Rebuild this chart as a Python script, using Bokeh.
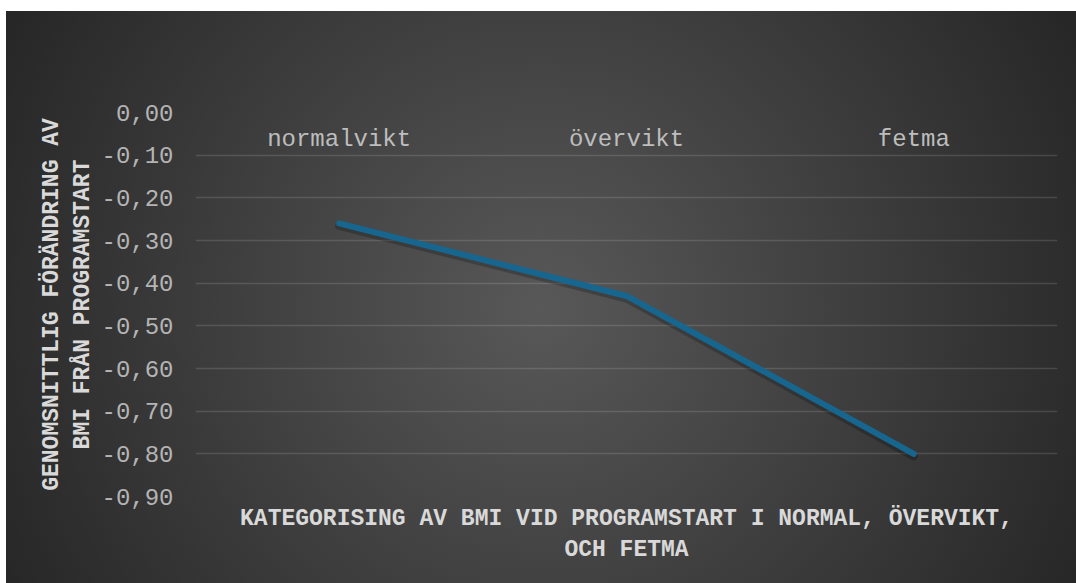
from bokeh.plotting import figure
from bokeh.models import FixedTicker, Range1d, CustomJSTickFormatter, ColumnDataSource
from bokeh.transform import dodge
from bokeh.core.properties import value
from bokeh.embed import file_html
from bokeh.resources import INLINE

# ---- data ----
categories = ["normalvikt", "övervikt", "fetma"]
bmi_change = [-0.26, -0.43, -0.80]
y_ticks = [0.0, -0.1, -0.2, -0.3, -0.4, -0.5, -0.6, -0.7, -0.8, -0.9]
y_tick_labels = ["0,00", "-0,10", "-0,20", "-0,30", "-0,40",
                 "-0,50", "-0,60", "-0,70", "-0,80", "-0,90"]
x_title = "KATEGORISING AV BMI VID PROGRAMSTART I NORMAL, ÖVERVIKT,\nOCH FETMA"
y_title = "GENOMSNITTLIG FÖRÄNDRING AV\nBMI FRÅN PROGRAMSTART"

FONT = "Liberation Mono"

p = figure(width=1070, height=572, x_range=categories,
           y_range=Range1d(min(y_ticks), max(y_ticks)),
           output_backend="svg", toolbar_location=None,
           min_border_left=189, min_border_right=19,
           min_border_top=101, min_border_bottom=87)
p.margin = (11, 0, 0, 6)
p.background_fill_alpha = 0
p.border_fill_alpha = 0
p.outline_line_color = None
p.styles = {"background": "radial-gradient(circle farthest-corner at 50% 52%, #585858 0%, #262626 100%)"}

# grid
p.xgrid.visible = False
p.ygrid.ticker = FixedTicker(ticks=y_ticks)
p.ygrid.grid_line_color = "#ffffff"
p.ygrid.grid_line_alpha = 0.13
p.ygrid.grid_line_width = 1.5

# y axis
yax = p.yaxis[0]
yax.ticker = FixedTicker(ticks=y_ticks)
yax.formatter = CustomJSTickFormatter(
    args=dict(tick_vals=y_ticks, tick_texts=y_tick_labels),
    code="const i = tick_vals.findIndex(t => Math.abs(t - tick) < 1e-9); return i >= 0 ? tick_texts[i] : '';")
yax.axis_line_color = None
yax.major_tick_line_color = None
yax.minor_tick_line_color = None
yax.major_label_standoff = 16
yax.major_label_text_font = FONT
yax.major_label_text_font_size = "24px"
yax.major_label_text_color = "#b4b4b4"
yax.axis_label = y_title
yax.axis_label_text_font = FONT
yax.axis_label_text_font_style = "bold"
yax.axis_label_text_font_size = "23px"
yax.axis_label_text_color = "#d9d9d9"
yax.axis_label_standoff = 2

# x axis (only title shown, category names drawn near zero line)
xax = p.xaxis[0]
xax.ticker = FixedTicker(ticks=[])
xax.axis_line_color = None
xax.major_tick_line_color = None
xax.minor_tick_line_color = None
xax.major_label_standoff = 0
xax.axis_label = x_title
xax.axis_label_text_font = FONT
xax.axis_label_text_font_style = "bold"
xax.axis_label_text_font_size = "23px"
xax.axis_label_text_color = "#d9d9d9"
xax.axis_label_standoff = 9

label_y = -0.064
p.text(x=categories, y=[label_y] * len(categories), text=categories,
       text_font=value(FONT), text_font_size="24px", text_color="#bdbdbd",
       text_align="center", text_baseline="middle")

# shadow + line
src = ColumnDataSource(dict(x=categories, y=bmi_change))
p.line(x="x", y=dodge("y", -0.006, range=p.y_range), source=src,
       line_color="#000000", line_alpha=0.22, line_width=8,
       line_cap="round", line_join="round")
p.line(x="x", y="y", source=src, line_color="#17668f", line_width=6,
       line_cap="round", line_join="round")

open("out.html", "w").write(file_html(p, INLINE))
